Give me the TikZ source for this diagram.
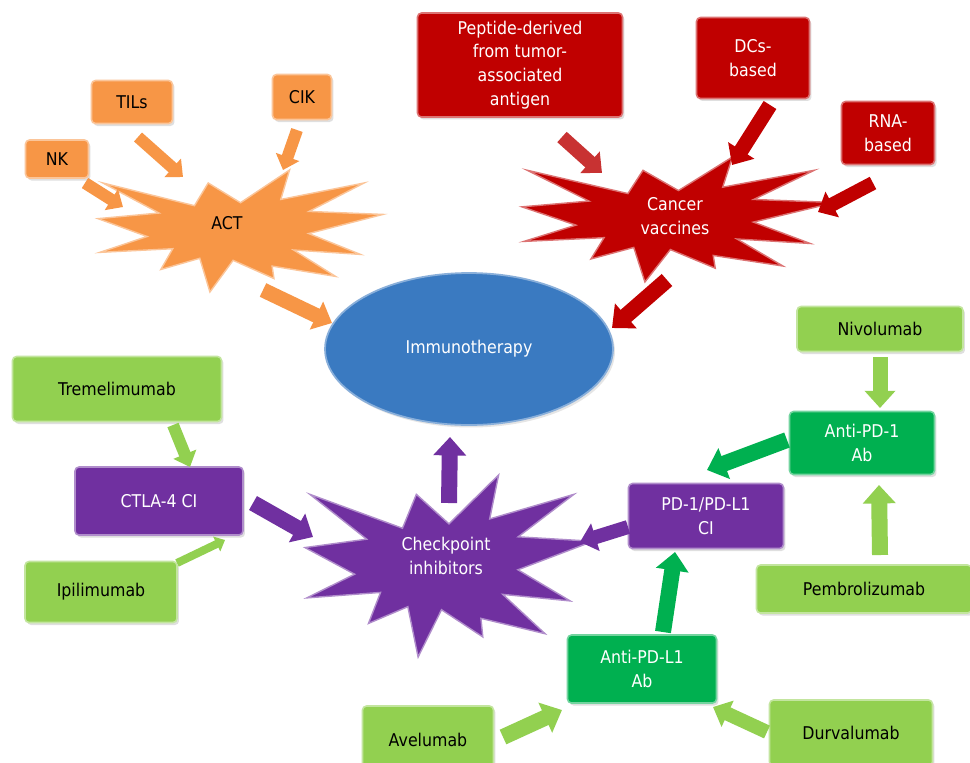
\documentclass[tikz,border=0pt]{standalone}
\usepackage{fontspec}
\setmainfont{DejaVu Sans}[FakeStretch=0.9]
\usetikzlibrary{arrows.meta,shapes.geometric,shadows}
\definecolor{cOr}{RGB}{247,150,70}
\definecolor{cRed}{RGB}{192,0,0}
\definecolor{cRedL}{RGB}{200,50,50}
\definecolor{cLg}{RGB}{146,208,80}
\definecolor{cDg}{RGB}{0,176,80}
\definecolor{cPu}{RGB}{112,48,160}
\definecolor{cBl}{RGB}{58,122,193}
\begin{document}
\begin{tikzpicture}[x=0.02cm,y=-0.02cm,
  lbl/.style={font=\fontsize{10}{13.6}\selectfont, align=center},
  box/.style={lbl, rounded corners=0.08cm, draw=#1!55!white, fill=#1, line width=0.9pt,
    inner sep=0pt, drop shadow={opacity=0.25, shadow xshift=0.04cm, shadow yshift=-0.05cm}},
  seal/.style={insert path={(0.5,0.2685) -- (0.3867,0.1063) -- (0.3385,0.2926) -- (0.0171,0.1063)
    -- (0.2142,0.3526) -- (0,0.3988) -- (0.1723,0.5451) -- (0.0063,0.6753) -- (0.2624,0.6452)
    -- (0.2205,0.8156) -- (0.3572,0.7235) -- (0.3928,1) -- (0.4741,0.7404) -- (0.6175,0.8897)
    -- (0.6110,0.7877) -- (0.8336,0.8721) -- (0.6867,0.6559) -- (0.9208,0.6919) -- (0.7394,0.5208)
    -- (1,0.3641) -- (0.7403,0.3396) -- (0.9338,0.1063) -- (0.6414,0.2414) -- (0.6723,0) -- cycle}},
  starfill/.style={fill=#1, draw=#1!55!white, line width=0.8pt, line join=miter},
  fat/.style={line width=#1, -{Triangle[length=0pt 1.15, width=0pt 2.0]}}
]
\useasboundingbox (0,0) rectangle (970,762);
\fill[white] (0,0) rectangle (970,762);
\clip (0,0) rectangle (970,762);

% central ellipse
\node[ellipse, fill=cBl, draw=cBl!60!white, line width=1pt, minimum width=5.76cm, minimum height=3.04cm,
  inner sep=0pt, lbl, text=white, drop shadow={opacity=0.2, shadow xshift=0.04cm, shadow yshift=-0.05cm}]
  (immuno) at (469,349) {Immunotherapy};

% explosion shapes
\begin{scope}[shift={(98,170)},x=5.7cm,y=-2.44cm]
  \filldraw[starfill=cOr, seal];
\end{scope}
\begin{scope}[shift={(522,157)},x=6.26cm,y=-2.5cm]
  \filldraw[starfill=cRed, seal];
\end{scope}
\begin{scope}[shift={(305,475)},x=5.76cm,y=-3.64cm]
  \filldraw[starfill=cPu, seal];
\end{scope}
\node[lbl, text=black] (act) at (227,223) {ACT};
\node[lbl, text=white] (vacc) at (675,216) {Cancer\\vaccines};
\node[lbl, text=white] (check) at (446,556) {Checkpoint\\inhibitors};

% ACT sources
\node[box=cOr, text=black, minimum width=1.26cm, minimum height=0.76cm] (nk) at (57,159) {NK};
\node[box=cOr, text=black, minimum width=1.62cm, minimum height=0.86cm] (tils) at (132,102) {TILs};
\node[box=cOr, text=black, minimum width=1.18cm, minimum height=0.9cm] (cik) at (302,97) {CIK};

% vaccine sources
\node[box=cRed, text=white, minimum width=4.1cm, minimum height=2.08cm] (pep) at (520,65)
  {Peptide-derived\\from tumor-\\associated\\antigen};
\node[box=cRed, text=white, minimum width=2.26cm, minimum height=1.62cm] (dcs) at (753,58) {DCs-\\based};
\node[box=cRed, text=white, minimum width=1.86cm, minimum height=1.26cm] (rna) at (888,133) {RNA-\\based};

% CTLA-4 branch
\node[box=cLg, text=black, minimum width=4.18cm, minimum height=1.3cm] (treme) at (117,389) {Tremelimumab};
\node[box=cPu, text=white, minimum width=3.36cm, minimum height=1.36cm] (ctla) at (159,501) {CTLA-4 CI};
\node[box=cLg, text=black, minimum width=3.04cm, minimum height=1.22cm] (ipi) at (101,592) {Ipilimumab};

% PD-1 branch
\node[box=cLg, text=black, minimum width=3.32cm, minimum height=0.9cm] (nivo) at (880,329) {Nivolumab};
\node[box=cDg, text=white, minimum width=2.9cm, minimum height=1.26cm] (apd1) at (862,443) {Anti-PD-1\\Ab};
\node[box=cPu, text=white, minimum width=3.1cm, minimum height=1.3cm] (pd1) at (706,516) {PD-1/PD-L1\\CI};
\node[box=cLg, text=black, minimum width=4.3cm, minimum height=0.96cm] (pembro) at (864,589) {Pembrolizumab};
\node[box=cDg, text=white, minimum width=2.98cm, minimum height=1.36cm] (apdl1) at (642,669) {Anti-PD-L1\\Ab};
\node[box=cLg, text=black, minimum width=2.62cm, minimum height=1.36cm] (ave) at (428,740) {Avelumab};
\node[box=cLg, text=black, minimum width=3.26cm, minimum height=1.32cm] (durva) at (851,733) {Durvalumab};

% arrow end points
\coordinate (nk-o) at (85,183);   \coordinate (act-i1) at (123,207);
\coordinate (tils-o) at (138,137); \coordinate (act-i2) at (183,177);
\coordinate (cik-o) at (297,130); \coordinate (act-i3) at (283,170);
\coordinate (act-o) at (263,290); \coordinate (imm-i1) at (332,323);
\coordinate (pep-o) at (562,137); \coordinate (vac-i1) at (602,173);
\coordinate (dcs-o) at (770,105); \coordinate (vac-i2) at (732,165);
\coordinate (rna-o) at (873,183); \coordinate (vac-i3) at (818,212);
\coordinate (vac-o) at (667,280); \coordinate (imm-i2) at (612,328);
\coordinate (treme-o) at (173,425); \coordinate (ctla-i1) at (190,467);
\coordinate (ipi-o) at (177,563); \coordinate (ctla-i2) at (225,540);
\coordinate (ctla-o) at (253,503); \coordinate (chk-i1) at (313,537);
\coordinate (chk-o) at (449,503); \coordinate (imm-i3) at (450,437);
\coordinate (nivo-o) at (880,357); \coordinate (apd1-i1) at (880,408);
\coordinate (pembro-o) at (880,555); \coordinate (apd1-i2) at (879,485);
\coordinate (apd1-o) at (787,440); \coordinate (pd1-i1) at (707,470);
\coordinate (pd1-o) at (628,527); \coordinate (chk-i2) at (580,542);
\coordinate (apdl1-o) at (663,632); \coordinate (pd1-i2) at (675,552);
\coordinate (ave-o) at (503,737); \coordinate (apdl1-i1) at (562,710);
\coordinate (durva-o) at (767,732); \coordinate (apdl1-i2) at (713,707);

% arrows
\draw[fat=0.24cm, cOr] (nk-o) -- (act-i1);
\draw[fat=0.24cm, cOr] (tils-o) -- (act-i2);
\draw[fat=0.24cm, cOr] (cik-o) -- (act-i3);
\draw[fat=0.3cm, cOr] (act-o) -- (imm-i1);
\draw[fat=0.28cm, cRedL] (pep-o) -- (vac-i1);
\draw[fat=0.3cm, cRed] (dcs-o) -- (vac-i2);
\draw[fat=0.28cm, cRed] (rna-o) -- (vac-i3);
\draw[fat=0.32cm, cRed] (vac-o) -- (imm-i2);
\draw[fat=0.24cm, cLg] (treme-o) -- (ctla-i1);
\draw[fat=0.16cm, cLg] (ipi-o) -- (ctla-i2);
\draw[fat=0.32cm, cPu] (ctla-o) -- (chk-i1);
\draw[fat=0.32cm, cPu] (chk-o) -- (imm-i3);
\draw[fat=0.3cm, cLg] (nivo-o) -- (apd1-i1);
\draw[fat=0.32cm, cLg] (pembro-o) -- (apd1-i2);
\draw[fat=0.32cm, cDg] (apd1-o) -- (pd1-i1);
\draw[fat=0.28cm, cPu] (pd1-o) -- (chk-i2);
\draw[fat=0.32cm, cDg] (apdl1-o) -- (pd1-i2);
\draw[fat=0.32cm, cLg] (ave-o) -- (apdl1-i1);
\draw[fat=0.28cm, cLg] (durva-o) -- (apdl1-i2);
\end{tikzpicture}
\end{document}
